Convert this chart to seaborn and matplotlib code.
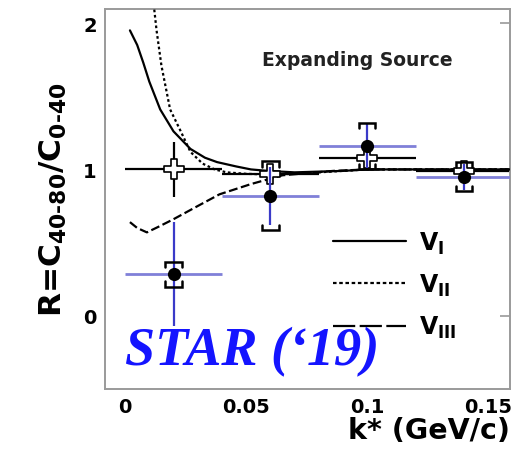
import numpy as np
import pandas as pd
import seaborn as sns
import matplotlib
matplotlib.use("Agg")
import matplotlib.pyplot as plt
from matplotlib.lines import Line2D

# ---- data ----
k_pts = [0.02, 0.06, 0.10, 0.14]
R_vals = [0.285, 0.82, 1.16, 0.95]
R_stat = [0.355, 0.20, 0.15, 0.09]
R_sys = [0.085, 0.235, 0.16, 0.10]
k_halfbin = [0.02, 0.02, 0.02, 0.02]

open_vals = [1.0, 0.97, 1.08, 0.99]
open_stat = [0.19, 0.02, 0.02, 0.02]

v1_k = [0.002, 0.005, 0.0075, 0.010, 0.0145, 0.020, 0.027, 0.033, 0.038, 0.046, 0.052, 0.059, 0.070, 0.080, 0.090, 0.100, 0.120, 0.140, 0.160]
v1_R = [1.95, 1.85, 1.73, 1.60, 1.41, 1.26, 1.14, 1.08, 1.05, 1.02, 1.00, 0.99, 0.98, 0.985, 0.99, 1.00, 1.00, 1.00, 1.00]

v2_k = [0.0095, 0.011, 0.013, 0.015, 0.0186, 0.023, 0.027, 0.032, 0.037, 0.042, 0.050, 0.060, 0.070, 0.080, 0.090, 0.100, 0.120, 0.140, 0.160]
v2_R = [2.60, 2.25, 1.95, 1.71, 1.41, 1.26, 1.12, 1.04, 1.00, 0.98, 0.97, 0.965, 0.97, 0.98, 0.99, 1.00, 1.00, 1.00, 1.00]

v3_k = [0.002, 0.005, 0.009, 0.014, 0.020, 0.030, 0.039, 0.052, 0.065, 0.086, 0.100, 0.120, 0.140, 0.160]
v3_R = [0.64, 0.60, 0.57, 0.61, 0.66, 0.75, 0.83, 0.90, 0.96, 0.99, 1.00, 1.00, 1.00, 1.00]

legend_labels = [r"V$_\mathregular{I}$", r"V$_\mathregular{II}$", r"V$_\mathregular{III}$"]

# ---- style ----
sns.set_theme(style="white")
plt.rcParams["font.family"] = ["DejaVu Sans"]
plt.rcParams["font.weight"] = "bold"
plt.rcParams["mathtext.default"] = "bf"
plt.rcParams["text.color"] = "black"
plt.rcParams["axes.labelcolor"] = "black"

fig = plt.figure(figsize=(5.2, 4.56), dpi=100)
ax = fig.add_axes([105 / 520, 66 / 456, 405 / 520, 380 / 456])

spine_c = "#9a9a9a"
for s in ax.spines.values():
    s.set_color(spine_c)
    s.set_linewidth(1.4)

curves = pd.concat([
    pd.DataFrame({"k": v1_k, "R": v1_R, "model": "V1"}),
    pd.DataFrame({"k": v2_k, "R": v2_R, "model": "V2"}),
    pd.DataFrame({"k": v3_k, "R": v3_R, "model": "V3"}),
])
styles = {"V1": "-", "V2": (0, (1.2, 1.2)), "V3": (0, (4, 1.6))}
leg_styles = {"V1": "-", "V2": (0, (1.6, 1.2)), "V3": (0, (10, 2))}
for m, grp in curves.groupby("model"):
    sns.lineplot(data=grp, x="k", y="R", ax=ax, color="black", lw=1.6,
                 linestyle=styles[m], sort=False, estimator=None, zorder=3)

# open crosses with black error bars
ax.errorbar(k_pts, open_vals, xerr=k_halfbin, yerr=open_stat, fmt="none",
            ecolor="black", elinewidth=1.6, capsize=0, zorder=2)
sns.scatterplot(x=k_pts, y=open_vals, ax=ax, marker="P", s=190,
                color="white", edgecolor="black", linewidth=1.2, zorder=4)

# filled points: horizontal (light blue) and vertical (blue) bars
ax.errorbar(k_pts, R_vals, xerr=k_halfbin, fmt="none", ecolor="#8080d8",
            elinewidth=2.0, capsize=0, zorder=5)
ax.errorbar(k_pts, R_vals, yerr=R_stat, fmt="none", ecolor="#3a3ac8",
            elinewidth=1.6, capsize=0, zorder=5)

# systematic brackets
bw = 0.0034
bt = 0.035
for x, y, s in zip(k_pts, R_vals, R_sys):
    top = y + s
    bot = y - s
    ax.plot([x - bw, x - bw, x + bw, x + bw], [top - bt, top, top, top - bt],
            color="black", lw=1.8, zorder=6, solid_joinstyle="miter")
    ax.plot([x - bw, x - bw, x + bw, x + bw], [bot + bt, bot, bot, bot + bt],
            color="black", lw=1.8, zorder=6, solid_joinstyle="miter")

sns.scatterplot(x=k_pts, y=R_vals, ax=ax, marker="o", s=90, color="black",
                edgecolor="black", linewidth=0, zorder=7)

ax.set_xlim(-0.0083, 0.159)
ax.set_ylim(-0.5, 2.096)
ax.set_xticks([0, 0.05, 0.1, 0.15])
ax.set_xticklabels(["0", "0.05", "0.1", "0.15"])
ax.set_yticks([0, 1, 2])
ax.tick_params(axis="both", direction="in", length=7, width=1.2, colors=spine_c,
               labelcolor="black", labelsize=14)
ax.tick_params(axis="y", right=True, pad=6)
ax.tick_params(axis="x", pad=6)
for lab in ax.get_xticklabels() + ax.get_yticklabels():
    lab.set_fontweight("bold")

ax.set_xlabel("k* (GeV/c)", fontsize=20.5, fontweight="bold", loc="right", labelpad=0)
ax.set_ylabel(r"R=C$_{40\text{-}80}$/C$_{0\text{-}40}$", fontsize=22.5,
              fontweight="bold", labelpad=10)

ax.text(0.096, 1.75, "Expanding Source", fontsize=13.5, fontweight="bold",
        color="#222222", ha="center", va="center")
ax.text(0.0, -0.33, "STAR (\u201819)", fontsize=39, fontweight="bold",
        fontstyle="italic", family="Liberation Serif", color="#1414ff",
        ha="left", va="baseline", zorder=8)

handles = [Line2D([], [], color="black", lw=1.6, linestyle=leg_styles[m]) for m in ["V1", "V2", "V3"]]
leg = ax.legend(handles, legend_labels, loc="upper left",
                bbox_to_anchor=(0.563, 0.42), frameon=False, fontsize=17,
                handlelength=3.1, handletextpad=0.55, labelspacing=0.68,
                borderpad=0, borderaxespad=0)

fig.savefig("out.png", dpi=100)
